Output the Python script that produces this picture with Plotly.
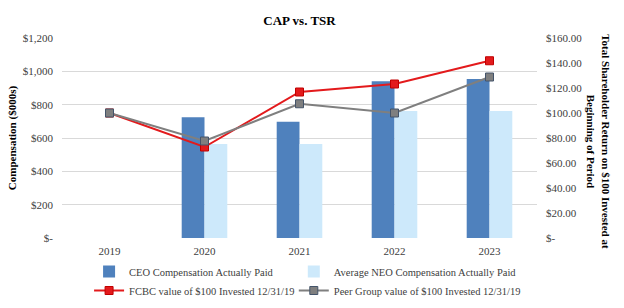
import plotly.graph_objects as go

years = ["2019", "2020", "2021", "2022", "2023"]
ceo_cap = [None, 724, 698, 940, 954]
neo_cap = [None, 564, 564, 762, 762]
fcbc_tsr = [100, 72.8, 116.8, 123.2, 141.8]
peer_tsr = [100, 77.6, 107.4, 100, 128.8]

left_ticks = [0, 200, 400, 600, 800, 1000, 1200]
left_labels = ["$-", "$200", "$400", "$600", "$800", "$1,000", "$1,200"]
right_ticks = [0, 20, 40, 60, 80, 100, 120, 140, 160]
right_labels = ["$-", "$20.00", "$40.00", "$60.00", "$80.00", "$100.00", "$120.00", "$140.00", "$160.00"]

FONT = "Times New Roman, Liberation Serif, serif"
fig = go.Figure()
fig.add_trace(go.Bar(x=years, y=ceo_cap, name="CEO Compensation Actually Paid",
                     legend="legend",
                     marker=dict(color="#4f81bd", line=dict(width=0))))
fig.add_trace(go.Bar(x=years, y=neo_cap, name="Average NEO Compensation Actually Paid",
                     legend="legend2",
                     marker=dict(color="#cde9fb", line=dict(width=0))))
fig.add_trace(go.Scatter(x=years, y=fcbc_tsr, name="FCBC value of $100 Invested 12/31/19",
                         yaxis="y2", mode="lines+markers", legend="legend",
                         line=dict(color="#e31a1c", width=2),
                         marker=dict(symbol="square", size=8, color="#e31a1c",
                                     line=dict(color="#c00000", width=1))))
fig.add_trace(go.Scatter(x=years, y=peer_tsr, name="Peer Group value of $100 Invested 12/31/19",
                         yaxis="y2", mode="lines+markers", legend="legend2",
                         line=dict(color="#7f7f7f", width=2),
                         marker=dict(symbol="square", size=8, color="#7f7f7f",
                                     line=dict(color="#44546a", width=1))))

legend_common = dict(orientation="v", yanchor="top", y=-0.095, xanchor="left",
                     traceorder="normal", tracegroupgap=0, itemwidth=30,
                     font=dict(family=FONT, size=10.5, color="#404040"),
                     bgcolor="rgba(0,0,0,0)")

fig.update_layout(
    width=624, height=308,
    margin=dict(l=62, r=87, t=38, b=70, autoexpand=False),
    paper_bgcolor="white", plot_bgcolor="white",
    font=dict(family=FONT, size=11, color="#404040"),
    title=dict(text="<b>CAP vs. TSR</b>", x=0.48, xanchor="center", y=0.935, yanchor="middle",
               font=dict(family=FONT, size=13, color="black")),
    barmode="group", bargap=0.52, bargroupgap=0,
    xaxis=dict(type="category", showgrid=False, showline=False, ticks="",
               ticklabelstandoff=5,
               tickfont=dict(family=FONT, size=11, color="#404040")),
    yaxis=dict(range=[0, 1200], tickvals=left_ticks, ticktext=left_labels,
               showgrid=True, gridcolor="#d9d9d9", gridwidth=1, zeroline=False,
               ticks="", ticklabelstandoff=8,
               tickfont=dict(family=FONT, size=11, color="#404040")),
    yaxis2=dict(range=[0, 160], tickvals=right_ticks, ticktext=right_labels,
                overlaying="y", side="right", showgrid=False, zeroline=False,
                ticks="", ticklabelstandoff=8,
                tickfont=dict(family=FONT, size=11, color="#404040")),
    showlegend=True,
    legend=dict(x=0.057, **legend_common),
    legend2=dict(x=0.488, **legend_common),
    annotations=[
        dict(text="<b>Compensation ($000s)</b>", xref="paper", yref="paper",
             x=-0.105, y=0.5, textangle=-90, showarrow=False,
             font=dict(family=FONT, size=11, color="black"),
             xanchor="center", yanchor="middle"),
        dict(text="<b>Total Shareholder Return on $100 Invested at<br>Beginning of Period</b>",
             xref="paper", yref="paper", x=1.13, y=0.48, textangle=90, showarrow=False,
             font=dict(family=FONT, size=11, color="black"),
             xanchor="center", yanchor="middle"),
    ],
)

fig.write_html("out.html")
